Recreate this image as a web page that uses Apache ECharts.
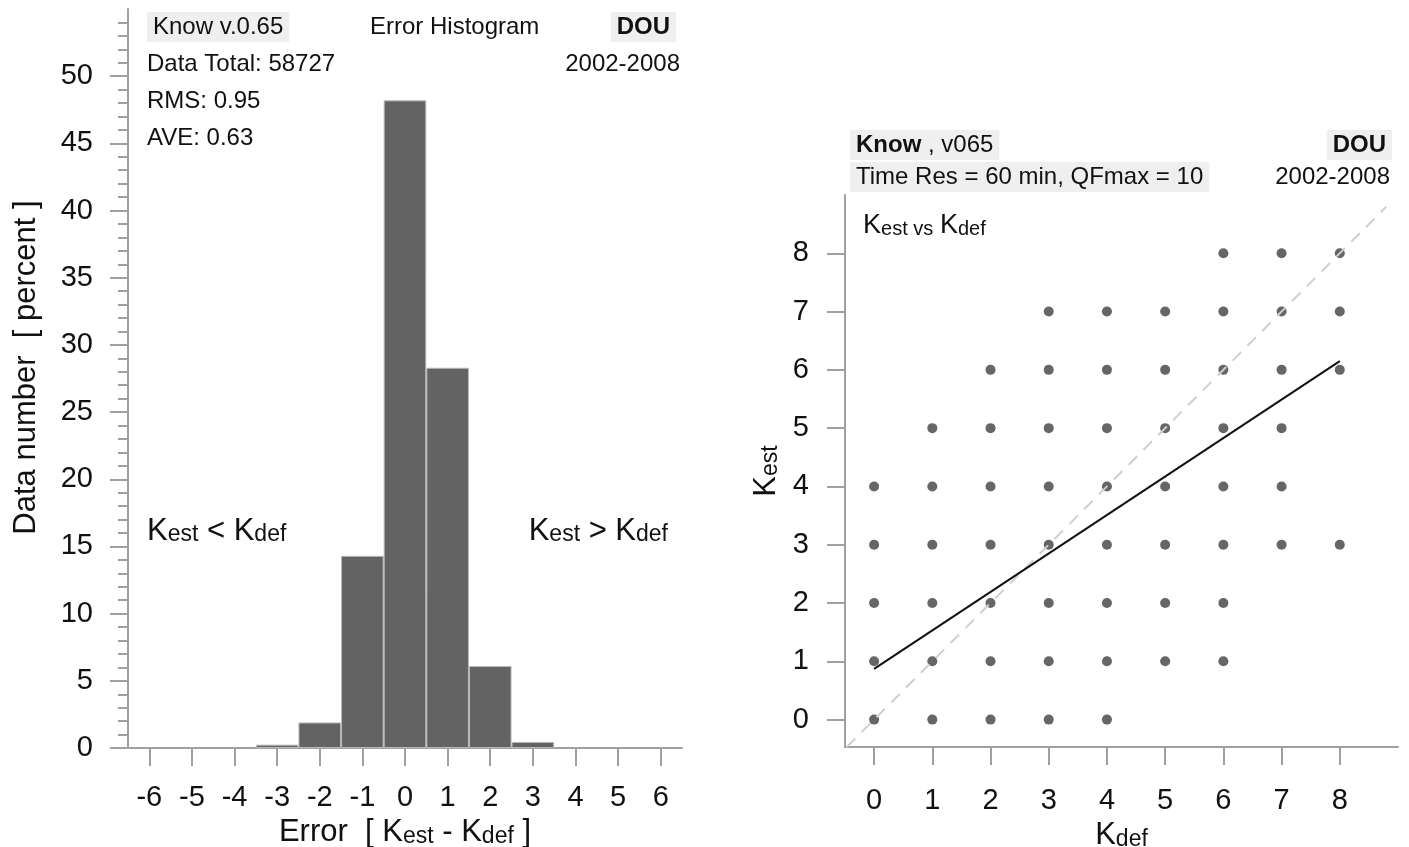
<!DOCTYPE html>
<html lang="en">
  <head>
    <meta charset="UTF-8" />
    <title>Know v.0.65 - DOU</title>
    <style>
      html, body { margin: 0; padding: 0; background: #fff; }
      #main { width: 1409px; height: 847px; }
    </style>
  </head>
  <body>
    <script src="https://cdn.jsdelivr.net/npm/echarts@6.0.0/dist/echarts.min.js"></script>
    <div id="main"></div>
    <script>
      // histogram: error classes and percent of data
      const errorClasses = ['-6', '-5', '-4', '-3', '-2', '-1', '0', '1', '2', '3', '4', '5', '6']
      const errorPercent = ['-', '-', '-', 0.25, 1.9, 14.3, 48.2, 28.3, 6.1, 0.45, '-', '-', '-']
      const histYTicks = [0, 5, 10, 15, 20, 25, 30, 35, 40, 45, 50]

      // scatter: for each Kest (index 0..8), the Kdef values that occur
      const kdefPerKest = [
        [0, 1, 2, 3, 4],
        [0, 1, 2, 3, 4, 5, 6],
        [0, 1, 2, 3, 4, 5, 6],
        [0, 1, 2, 3, 4, 5, 6, 7, 8],
        [0, 1, 2, 3, 4, 5, 6, 7],
        [1, 2, 3, 4, 5, 6, 7],
        [2, 3, 4, 5, 6, 7, 8],
        [3, 4, 5, 6, 7, 8],
        [6, 7, 8]
      ]
      const kTicks = [0, 1, 2, 3, 4, 5, 6, 7, 8]
      const fitLine = [[0, 0.87], [8, 6.15]]
      const diagLine = [[-0.47, -0.47], [8.8, 8.8]]

      const scatterData = []
      kdefPerKest.forEach((xs, kest) => xs.forEach(kdef => scatterData.push([kdef, kest])))

      const FONT = 'Liberation Sans, Arial, sans-serif'
      const AXIS_GRAY = '#a0a0a0'
      const TXT = '#111'
      const HEAD = 24

      // K with a small subscript, used in several places
      function kRich(size, subSize) {
        return {
          b: { fontSize: size, fontFamily: FONT, color: TXT, verticalAlign: 'bottom', lineHeight: size + 2 },
          s: { fontSize: subSize, fontFamily: FONT, color: TXT, verticalAlign: 'bottom', lineHeight: size + 2 }
        }
      }

      const chart = echarts.init(document.getElementById('main'))

      function label(x, y, text, opts) {
        return {
          type: 'text',
          x,
          y,
          style: Object.assign({
            text,
            font: HEAD + 'px ' + FONT,
            fill: TXT,
            textAlign: 'left',
            textVerticalAlign: 'middle'
          }, opts || {})
        }
      }

      const boxStyle = { backgroundColor: '#efefef', padding: [3, 6] }

      chart.setOption({
        animation: false,
        textStyle: { fontFamily: FONT },
        grid: [
          { left: 128, top: 9, width: 554, height: 739, outerBoundsMode: 'none', containLabel: false },
          { left: 845, top: 195, width: 553, height: 552, outerBoundsMode: 'none', containLabel: false }
        ],
        xAxis: [
          {
            gridIndex: 0,
            type: 'category',
            data: errorClasses,
            boundaryGap: true,
            offset: 4,
            axisLine: { show: true, lineStyle: { color: AXIS_GRAY, width: 2 } },
            axisTick: { show: true, alignWithLabel: true, length: 18, lineStyle: { color: AXIS_GRAY, width: 2 } },
            axisLabel: { fontSize: 29, color: TXT, margin: 31, fontFamily: FONT },
            name: '{b|Error  [ K}{s|est}{b| - K}{s|def}{b| ]}',
            nameLocation: 'middle',
            nameGap: 62,
            nameTextStyle: { rich: kRich(31, 23) }
          },
          {
            gridIndex: 1,
            type: 'value',
            min: -0.5,
            max: 9,
            splitLine: { show: false },
            axisLine: { show: true, onZero: false, lineStyle: { color: AXIS_GRAY, width: 2 } },
            axisTick: { show: true, length: 18, customValues: kTicks, lineStyle: { color: AXIS_GRAY, width: 2 } },
            axisLabel: { fontSize: 29, color: TXT, margin: 39, customValues: kTicks, fontFamily: FONT },
            name: '{b|K}{s|def}',
            nameLocation: 'middle',
            nameGap: 66,
            nameTextStyle: { rich: kRich(31, 23) }
          }
        ],
        yAxis: [
          {
            gridIndex: 0,
            type: 'value',
            min: 0,
            max: 55,
            interval: 5,
            splitLine: { show: false },
            axisLine: { show: true, lineStyle: { color: AXIS_GRAY, width: 2 } },
            axisTick: { show: true, length: 18, customValues: histYTicks, lineStyle: { color: AXIS_GRAY, width: 2 } },
            minorTick: { show: true, splitNumber: 5, length: 10, lineStyle: { color: AXIS_GRAY, width: 2 } },
            axisLabel: { fontSize: 29, color: TXT, margin: 35, customValues: histYTicks, fontFamily: FONT },
            name: 'Data number  [ percent ]',
            nameLocation: 'middle',
            nameGap: 86,
            nameTextStyle: { fontSize: 31, color: TXT, fontFamily: FONT, padding: [0, 0, 0, 22] }
          },
          {
            gridIndex: 1,
            type: 'value',
            min: -0.47,
            max: 9,
            splitLine: { show: false },
            axisLine: { show: true, onZero: false, lineStyle: { color: AXIS_GRAY, width: 2 } },
            axisTick: { show: true, length: 18, customValues: kTicks, lineStyle: { color: AXIS_GRAY, width: 2 } },
            axisLabel: { fontSize: 29, color: TXT, margin: 36, customValues: kTicks, fontFamily: FONT },
            name: '{b|K}{s|est}',
            nameLocation: 'middle',
            nameGap: 63,
            nameTextStyle: { rich: kRich(31, 23) }
          }
        ],
        series: [
          {
            type: 'bar',
            xAxisIndex: 0,
            yAxisIndex: 0,
            data: errorPercent,
            barCategoryGap: '0%',
            itemStyle: { color: '#636363', borderColor: '#b8b8b8', borderWidth: 1 }
          },
          {
            type: 'line',
            xAxisIndex: 1,
            yAxisIndex: 1,
            data: diagLine,
            symbol: 'none',
            silent: true,
            lineStyle: { color: '#cfcfcf', width: 2, type: [12, 9] }
          },
          {
            type: 'scatter',
            xAxisIndex: 1,
            yAxisIndex: 1,
            data: scatterData,
            symbolSize: 10,
            itemStyle: { color: '#666666', opacity: 1 }
          },
          {
            type: 'line',
            xAxisIndex: 1,
            yAxisIndex: 1,
            data: fitLine,
            symbol: 'none',
            lineStyle: { color: '#111', width: 2 }
          }
        ],
        graphic: {
          elements: [
            // left panel header
            label(147, 27, 'Know v.0.65', boxStyle),
            label(370, 27, 'Error Histogram'),
            label(676, 27, 'DOU', Object.assign({ font: 'bold ' + HEAD + 'px ' + FONT, textAlign: 'right' }, boxStyle)),
            label(147, 64, 'Data Total: 58727'),
            label(680, 64, '2002-2008', { textAlign: 'right' }),
            label(147, 101, 'RMS: 0.95'),
            label(147, 138, 'AVE: 0.63'),
            label(147, 530, '{b|K}{s|est}{b| < K}{s|def}', { rich: kRich(31, 23) }),
            label(668, 530, '{b|K}{s|est}{b| > K}{s|def}', { textAlign: 'right', rich: kRich(31, 23) }),
            // right panel header
            label(850, 145, '{bold|Know} , v065', Object.assign({
              rich: { bold: { fontWeight: 'bold', fontSize: HEAD, fontFamily: FONT, color: TXT } }
            }, boxStyle)),
            label(1392, 145, 'DOU', Object.assign({ font: 'bold ' + HEAD + 'px ' + FONT, textAlign: 'right' }, boxStyle)),
            label(850, 177, 'Time Res = 60 min, QFmax = 10', boxStyle),
            label(1390, 177, '2002-2008', { textAlign: 'right' }),
            label(863, 225, '{b|K}{s|est vs} {b|K}{s|def}', { rich: kRich(27, 20) })
          ]
        }
      })
    </script>
  </body>
</html>
